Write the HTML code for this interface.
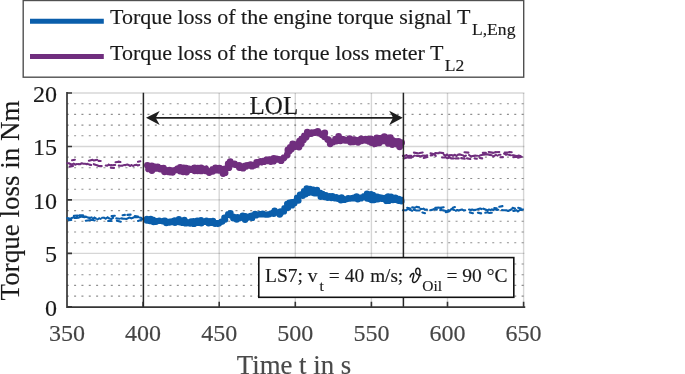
<!DOCTYPE html><html><head><meta charset="utf-8"><style>html,body{margin:0;padding:0;background:#fff;overflow:hidden}svg{display:block;filter:blur(0.3px)}text{stroke-width:0.15px}</style></head><body><svg width="685" height="374" viewBox="0 0 685 374" font-family="&quot;Liberation Serif&quot;, serif"><rect width="685" height="374" fill="#fff"/><path d="M67,296.1H523.6M67,285.4H523.6M67,274.7H523.6M67,264.0H523.6M67,242.7H523.6M67,232.0H523.6M67,221.3H523.6M67,210.6H523.6M67,189.2H523.6M67,178.5H523.6M67,167.8H523.6M67,157.1H523.6M67,135.8H523.6M67,125.1H523.6M67,114.4H523.6M67,103.7H523.6" stroke="#8f8f8f" stroke-width="1.1" stroke-dasharray="2.0,5.336" stroke-dashoffset="-7.1" fill="none"/><path d="M67,253.4H524.4M67,199.9H524.4M67,146.5H524.4M67,93.0H524.4" stroke="#000" stroke-opacity="0.16" stroke-width="1.4" fill="none"/><path d="M219.2,93V306.8M295.3,93V306.8M371.4,93V306.8M447.5,93V306.8M523.6,93V306.8" stroke="#000" stroke-opacity="0.16" stroke-width="1.4" fill="none"/><path d="M67,92.8V307.1H524.4" stroke="#363636" stroke-width="1.7" fill="none" stroke-linecap="square"/><path d="M67,306.8H72M67,253.4H72M67,199.9H72M67,146.5H72M67,93.0H72M143.1,307V301.8M219.2,307V301.8M295.3,307V301.8M371.4,307V301.8M447.5,307V301.8M523.6,307V301.8" stroke="#363636" stroke-width="1.6" fill="none"/><path d="M67.3,163.2L68.9,163.3M68.9,163.3L70.8,164.2M70.8,164.2L72.4,164.3M73.7,163.6L75.3,164.6M75.3,164.6L77.1,164.1M78.4,164.1L80.0,164.2M80.0,164.2L81.8,163.3M81.8,163.3L83.3,163.7M83.3,163.7L84.8,163.7M84.8,163.7L86.5,164.1M86.5,164.1L87.8,163.9M89.3,164.6L91.1,165.0M93.8,164.2L95.3,164.8M96.9,165.2L98.7,166.0M98.7,166.0L100.1,166.1M100.1,166.1L101.7,166.1M105.7,165.5L107.3,165.6M107.3,165.6L108.8,164.7M108.8,164.7L110.5,165.3M110.5,165.3L111.9,165.1M113.6,165.0L115.2,165.0M118.8,165.6L120.7,165.7M120.7,165.7L122.6,165.6M124.0,165.0L125.5,165.1M125.5,165.1L127.3,164.6M127.3,164.6L128.6,165.0M128.6,165.0L130.1,165.9M130.1,165.9L131.7,165.0M133.2,165.9L134.5,165.2M134.5,165.2L136.3,164.8M136.3,164.8L137.7,165.4M137.7,165.4L139.3,165.0M69.6,166.6L73.1,166.0M72.1,160.3L74.9,159.7M88.9,160.8L92.7,159.8M93.7,160.5L97.1,159.7M98.6,160.9L100.7,161.0M110.8,167.7L114.0,167.9M115.6,162.3L118.9,161.7M118.4,161.6L120.4,162.0M138.0,161.7L140.3,161.3M402.9,155.9L404.7,155.8M404.7,155.8L406.4,155.2M406.4,155.2L408.0,156.1M408.0,156.1L409.7,155.8M409.7,155.8L411.2,155.9M413.0,156.6L414.6,155.5M416.1,155.7L417.4,155.9M417.4,155.9L419.0,155.8M419.0,155.8L420.9,156.5M420.9,156.5L422.5,155.6M423.8,155.6L425.3,155.7M425.3,155.7L427.2,155.3M430.7,155.4L432.4,155.2M434.2,154.2L435.7,155.9M443.9,154.6L445.4,155.7M445.4,155.7L447.0,154.5M447.0,154.5L448.6,155.9M448.6,155.9L450.2,155.0M451.6,155.0L453.0,155.8M453.0,155.8L454.9,154.8M454.9,154.8L456.4,155.8M456.4,155.8L458.3,154.6M458.3,154.6L459.9,154.4M459.9,154.4L461.6,154.9M463.0,155.4L464.6,156.4M464.6,156.4L465.9,155.7M469.1,155.0L470.9,156.5M470.9,156.5L472.3,156.0M472.3,156.0L473.8,155.9M473.8,155.9L475.4,155.6M475.4,155.6L477.2,155.7M479.0,155.9L480.6,155.3M480.6,155.3L482.1,155.0M483.5,154.7L485.4,154.4M486.7,154.5L488.1,154.4M488.1,154.4L489.9,154.9M489.9,154.9L491.7,155.2M493.2,156.5L494.6,155.6M494.6,155.6L495.9,154.9M495.9,154.9L497.6,155.6M499.0,154.8L500.5,154.8M504.1,153.7L505.9,154.7M505.9,154.7L507.3,154.4M509.0,154.9L510.6,155.2M512.4,155.3L514.0,155.4M514.0,155.4L515.6,155.8M515.6,155.8L517.0,156.2M517.0,156.2L518.7,155.6M518.7,155.6L520.3,156.0M403.8,158.5L407.2,157.6M408.6,157.8L411.4,157.8M413.9,152.6L417.9,153.3M419.7,153.0L422.7,152.5M423.7,158.0L427.3,157.1M430.5,153.2L434.3,154.3M435.2,153.0L438.6,153.3M439.3,152.5L443.2,153.1M442.1,157.5L445.9,157.4M447.1,158.3L450.2,157.6M451.1,158.4L453.5,158.4M455.3,158.5L458.7,158.4M461.2,158.1L464.7,158.8M464.5,152.3L468.4,152.6M467.0,158.4L470.3,159.0M474.6,158.4L476.8,158.8M479.8,158.0L482.2,158.4M482.8,152.9L485.9,152.9M488.7,152.0L492.1,152.6M492.9,152.9L495.9,152.1M495.7,152.2L499.3,152.0M500.6,157.3L502.9,157.1M504.7,152.5L508.6,152.2M509.1,152.0L511.7,152.2M513.3,157.2L516.9,156.8M518.0,157.7L521.7,156.8" stroke="#702e7e" stroke-width="2.1" stroke-linecap="round" fill="none"/><path d="M67.3,218.1L68.6,218.3M68.6,218.3L69.9,218.9M69.9,218.9L71.3,218.3M71.3,218.3L73.3,217.4M73.3,217.4L74.8,218.0M74.8,218.0L76.5,217.9M76.5,217.9L78.4,217.7M78.4,217.7L80.0,217.1M80.0,217.1L81.3,216.5M81.3,216.5L83.1,217.0M84.4,217.2L86.2,216.8M86.2,216.8L88.0,217.6M88.0,217.6L89.8,217.9M89.8,217.9L91.6,217.4M93.1,218.6L94.5,217.6M94.5,217.6L95.8,218.4M97.4,219.5L99.1,218.3M99.1,218.3L100.6,218.9M102.1,217.7L104.0,217.7M104.0,217.7L105.7,218.6M105.7,218.6L107.6,217.4M107.6,217.4L109.3,218.5M109.3,218.5L111.2,219.1M111.2,219.1L113.1,217.9M116.3,218.4L117.6,218.5M117.6,218.5L119.4,218.7M121.2,218.4L122.8,218.6M122.8,218.6L124.6,218.7M124.6,218.7L126.4,219.0M126.4,219.0L127.7,218.4M127.7,218.4L129.4,217.5M129.4,217.5L131.4,218.4M131.4,218.4L133.0,217.7M133.0,217.7L134.3,217.1M134.3,217.1L135.9,217.3M135.9,217.3L137.5,217.2M139.2,217.5L141.0,217.8M141.0,217.8L142.5,218.8M68.9,220.1L71.3,220.0M73.9,215.8L77.5,215.6M79.4,215.3L83.1,215.2M82.7,216.0L86.3,216.7M85.8,220.7L89.4,220.3M88.8,220.2L91.4,220.0M92.7,220.0L94.7,220.5M108.1,221.0L111.4,221.0M111.6,216.1L114.8,215.7M116.9,220.8L120.8,221.7M122.6,215.2L124.9,214.9M127.4,214.9L130.6,214.6M134.9,216.0L138.0,216.5M138.0,220.9L141.7,219.8M402.9,210.3L404.4,210.2M404.4,210.2L406.3,210.1M406.3,210.1L407.7,209.0M409.4,209.7L410.7,210.0M410.7,210.0L412.1,210.7M413.9,209.7L415.7,210.3M415.7,210.3L417.4,210.5M417.4,210.5L419.1,210.5M420.5,208.9L422.1,209.0M423.5,208.6L425.1,209.8M425.1,209.8L426.9,209.6M430.2,210.3L432.1,209.9M432.1,209.9L433.6,209.2M433.6,209.2L435.3,209.4M435.3,209.4L436.8,209.8M440.2,210.1L441.7,209.8M443.2,210.4L445.1,210.8M446.5,211.1L448.2,210.4M448.2,210.4L450.0,210.6M450.0,210.6L451.4,209.0M451.4,209.0L452.8,209.5M452.8,209.5L454.1,209.9M455.8,210.7L457.2,210.0M457.2,210.0L458.8,210.6M458.8,210.6L460.1,210.1M460.1,210.1L462.0,209.5M462.0,209.5L463.7,210.4M463.7,210.4L465.2,210.2M469.0,209.5L470.7,210.1M470.7,210.1L472.1,209.6M472.1,209.6L473.6,210.1M473.6,210.1L475.5,209.9M477.0,209.5L478.4,209.1M478.4,209.1L480.2,208.6M480.2,208.6L481.5,209.1M483.4,208.7L484.8,209.3M484.8,209.3L486.1,209.8M487.4,210.3L488.8,209.6M488.8,209.6L490.7,210.1M490.7,210.1L492.0,209.4M492.0,209.4L493.6,209.9M495.5,209.6L497.0,210.0M497.0,210.0L498.3,209.7M502.0,210.1L503.4,210.3M503.4,210.3L504.9,210.3M504.9,210.3L506.7,210.4M506.7,210.4L508.1,211.0M508.1,211.0L509.7,210.3M509.7,210.3L511.6,209.3M513.3,210.9L515.1,210.6M516.5,210.2L517.9,211.5M517.9,211.5L519.7,210.0M519.7,210.0L521.2,210.0M521.2,210.0L522.9,209.4M407.2,207.7L410.3,208.4M412.2,207.4L415.2,207.7M416.4,206.9L419.1,207.4M422.4,212.5L425.0,213.2M435.3,207.9L438.9,207.6M440.1,207.9L443.7,207.2M445.8,212.2L449.0,211.4M452.8,207.7L454.9,207.1M469.8,212.4L472.9,213.2M477.9,212.7L481.1,213.4M485.3,212.7L488.0,212.2M489.0,213.0L491.8,212.8M494.3,208.1L496.7,208.2M499.3,206.8L502.5,206.1M512.6,207.8L515.0,208.4M518.2,207.8L520.8,208.5" stroke="#0a5eab" stroke-width="2.1" stroke-linecap="round" fill="none"/><path d="M146.5,163.5L147.0,163.4L147.5,162.7L148.0,163.2L148.5,163.3L149.0,163.4L149.5,163.4L150.0,163.5L150.5,163.6L151.0,163.7L151.5,163.8L152.0,163.8L152.5,163.9L153.0,164.0L153.5,164.1L154.0,164.1L154.5,164.2L155.0,164.2L155.5,164.3L156.0,164.4L156.5,164.4L157.0,164.5L157.5,164.6L158.0,164.8L158.5,164.9L159.0,165.0L159.5,165.1L160.0,165.2L160.5,165.4L161.0,165.5L161.5,165.6L162.0,165.8L162.5,165.9L163.0,166.0L163.5,166.2L164.0,166.4L164.5,166.7L165.0,166.9L165.5,167.1L166.0,167.3L166.5,167.6L167.0,167.8L167.5,168.0L168.0,168.2L168.5,168.4L169.0,168.7L169.5,168.9L170.0,169.1L170.5,168.8L171.0,168.6L171.5,168.3L172.0,168.1L172.5,167.8L173.0,167.6L173.5,167.3L174.0,167.0L174.5,166.8L175.0,166.5L175.5,166.3L176.0,166.0L176.5,166.0L177.0,166.1L177.5,166.1L178.0,166.1L178.5,166.2L179.0,166.2L179.5,166.2L180.0,166.3L180.5,166.3L181.0,166.4L181.5,166.4L182.0,166.4L182.5,166.5L183.0,166.5L183.5,166.5L184.0,166.5L184.5,166.5L185.0,166.5L185.5,166.5L186.0,166.5L186.5,166.5L187.0,166.5L187.5,166.5L188.0,166.5L188.5,166.5L189.0,166.5L189.5,166.5L190.0,166.5L190.5,166.4L191.0,166.3L191.5,166.1L192.0,166.0L192.5,165.9L193.0,165.8L193.5,165.6L194.0,165.5L194.5,165.4L195.0,165.2L195.5,165.1L196.0,165.0L196.5,165.1L197.0,165.2L197.5,165.3L198.0,165.4L198.5,165.5L199.0,165.6L199.5,165.8L200.0,165.9L200.5,166.0L201.0,166.1L201.5,166.2L202.0,166.3L202.5,166.4L203.0,166.5L203.5,166.3L204.0,166.1L204.5,165.9L205.0,165.8L205.5,165.6L206.0,165.4L206.5,165.2L207.0,165.0L207.5,165.7L208.0,166.4L208.5,167.1L209.0,167.8L209.5,168.5L210.0,169.2L210.5,168.9L211.0,168.7L211.5,168.4L212.0,168.2L212.5,167.9L213.0,167.6L213.5,167.4L214.0,167.1L214.5,166.9L215.0,166.6L215.5,166.6L216.0,166.5L216.5,166.5L217.0,166.4L217.5,166.3L218.0,166.3L218.5,166.2L219.0,166.2L219.5,166.2L220.0,166.1L220.5,166.2L221.0,166.4L221.5,166.5L222.0,166.7L222.5,166.8L223.0,166.9L223.5,167.1L224.0,167.2L224.5,165.9L225.0,164.6L225.5,163.3L226.0,162.0L226.5,161.8L227.0,161.5L227.5,161.2L228.0,161.0L228.5,160.8L229.0,160.5L229.5,160.2L230.0,160.0L230.5,160.2L231.0,160.4L231.5,160.6L232.0,160.8L232.5,161.0L233.0,161.2L233.5,161.4L234.0,161.6L234.5,161.8L235.0,162.0L235.5,162.2L236.0,162.3L236.5,162.5L237.0,162.6L237.5,162.8L238.0,163.0L238.5,163.1L239.0,163.3L239.5,163.4L240.0,163.6L240.5,163.7L241.0,163.7L241.5,163.7L242.0,163.8L242.5,163.8L243.0,163.9L243.5,163.9L244.0,164.0L244.5,164.0L245.0,164.1L245.5,164.0L246.0,163.9L246.5,163.8L247.0,163.7L247.5,163.6L248.0,163.5L248.5,163.4L249.0,163.3L249.5,163.2L250.0,163.1L250.5,163.2L251.0,163.2L251.5,163.2L252.0,163.3L252.5,163.3L253.0,163.4L253.5,163.4L254.0,163.5L254.5,163.5L255.0,163.6L255.5,162.8L256.0,162.1L256.5,161.3L257.0,160.5L257.5,159.8L258.0,159.0L258.5,159.1L259.0,159.3L259.5,159.4L260.0,159.5L260.5,159.6L261.0,159.8L261.5,159.9L262.0,160.0L262.5,159.7L263.0,159.4L263.5,159.1L264.0,158.8L264.5,158.5L265.0,158.1L265.5,157.8L266.0,157.5L266.5,157.2L267.0,156.9L267.5,156.9L268.0,157.0L268.5,157.1L269.0,157.1L269.5,157.2L270.0,157.2L270.5,157.2L271.0,157.3L271.5,157.3L272.0,157.4L272.5,157.2L273.0,157.0L273.5,156.8L274.0,156.6L274.5,156.4L275.0,156.2L275.5,156.2L276.0,156.3L276.5,156.3L277.0,156.4L277.5,156.4L278.0,156.4L278.5,156.5L279.0,156.5L279.5,156.6L280.0,156.6L280.5,157.0L281.0,157.5L281.5,157.9L282.0,158.3L282.5,158.8L283.0,159.2L283.5,156.9L284.0,154.5L284.5,152.2L285.0,149.9L285.5,149.4L286.0,149.0L286.5,148.5L287.0,148.1L287.5,147.7L288.0,147.2L288.5,146.4L289.0,145.7L289.5,144.9L290.0,144.1L290.5,143.4L291.0,142.6L291.5,142.5L292.0,142.4L292.5,142.2L293.0,142.1L293.5,142.0L294.0,141.9L294.5,142.0L295.0,142.1L295.5,142.2L296.0,142.4L296.5,142.5L297.0,142.6L297.5,142.0L298.0,141.5L298.5,140.9L299.0,140.3L299.5,139.8L300.0,139.2L300.5,138.4L301.0,137.5L301.5,136.7L302.0,135.9L302.5,135.4L303.0,134.9L303.5,134.4L304.0,133.9L304.5,133.1L305.0,132.2L305.5,131.4L306.0,130.6L306.5,130.3L307.0,130.1L307.5,129.8L308.0,129.5L308.5,129.7L309.0,129.9L309.5,130.1L310.0,130.4L310.5,130.6L311.0,130.8L311.5,130.6L312.0,130.4L312.5,130.2L313.0,129.9L313.5,129.7L314.0,129.5L314.5,129.4L315.0,129.4L315.5,129.3L316.0,129.3L316.5,129.2L317.0,129.2L317.5,129.7L318.0,130.1L318.5,130.6L319.0,131.0L319.5,131.4L320.0,131.9L320.5,131.9L321.0,131.8L321.5,131.8L322.0,131.7L322.5,131.7L323.0,131.6L323.5,131.5L324.0,131.4L324.5,131.3L325.0,131.2L325.5,132.0L326.0,132.9L326.5,133.8L327.0,134.6L327.5,135.2L328.0,135.9L328.5,136.6L329.0,137.2L329.5,137.7L330.0,138.2L330.5,138.7L331.0,139.2L331.5,139.1L332.0,139.0L332.5,138.9L333.0,138.8L333.5,138.7L334.0,138.6L334.5,137.9L335.0,137.3L335.5,136.6L336.0,135.9L336.5,135.3L337.0,134.6L337.5,134.7L338.0,134.8L338.5,134.9L339.0,135.0L339.5,135.1L340.0,135.2L340.5,135.4L341.0,135.7L341.5,135.9L342.0,136.1L342.5,136.3L343.0,136.6L343.5,136.8L344.0,137.0L344.5,137.3L345.0,137.5L345.5,137.4L346.0,137.4L346.5,137.3L347.0,137.2L347.5,137.2L348.0,137.1L348.5,137.0L349.0,136.9L349.5,136.9L350.0,136.8L350.5,136.9L351.0,137.1L351.5,137.2L352.0,137.3L352.5,137.4L353.0,137.6L353.5,137.7L354.0,137.8L354.5,138.0L355.0,138.1L355.5,138.0L356.0,137.8L356.5,137.7L357.0,137.6L357.5,137.5L358.0,137.3L358.5,137.2L359.0,137.1L359.5,136.9L360.0,136.8L360.5,136.9L361.0,136.9L361.5,137.0L362.0,137.1L362.5,137.2L363.0,137.2L363.5,137.3L364.0,137.4L364.5,137.4L365.0,137.5L365.5,137.5L366.0,137.5L366.5,137.5L367.0,137.5L367.5,137.5L368.0,137.5L368.5,137.5L369.0,137.5L369.5,137.5L370.0,137.5L370.5,137.6L371.0,137.7L371.5,137.7L372.0,137.8L372.5,137.9L373.0,137.9L373.5,138.0L374.0,138.1L374.5,137.8L375.0,137.5L375.5,137.2L376.0,136.8L376.5,136.5L377.0,136.2L377.5,136.0L378.0,135.9L378.5,135.7L379.0,135.5L379.5,135.3L380.0,135.2L380.5,135.0L381.0,134.8L381.5,134.7L382.0,134.5L382.5,134.3L383.0,134.1L383.5,134.0L384.0,133.8L384.5,134.0L385.0,134.2L385.5,134.4L386.0,134.6L386.5,134.8L387.0,135.0L387.5,135.2L388.0,135.4L388.5,135.6L389.0,135.8L389.5,136.0L390.0,136.2L390.5,136.4L391.0,136.6L391.5,136.8L392.0,137.0L392.5,137.2L393.0,137.3L393.5,137.5L394.0,137.7L394.5,137.9L395.0,138.1L395.5,138.2L396.0,138.3L396.5,138.4L397.0,138.5L397.5,138.7L398.0,138.8L398.5,138.9L399.0,139.0L399.5,139.1L400.0,139.2L400.5,139.4L401.0,139.6L401.5,139.8L402.0,140.0L402.5,140.2L402.5,147.8L402.0,147.9L401.5,148.0L401.0,148.1L400.5,148.2L400.0,148.3L399.5,148.1L399.0,147.9L398.5,147.8L398.0,147.6L397.5,147.4L397.0,147.2L396.5,147.0L396.0,146.9L395.5,146.7L395.0,146.5L394.5,146.5L394.0,146.5L393.5,146.5L393.0,146.5L392.5,146.5L392.0,146.5L391.5,146.5L391.0,146.5L390.5,146.5L390.0,146.5L389.5,146.3L389.0,146.1L388.5,145.9L388.0,145.7L387.5,145.5L387.0,145.3L386.5,145.1L386.0,144.9L385.5,144.7L385.0,144.5L384.5,144.3L384.0,144.1L383.5,144.1L383.0,144.2L382.5,144.2L382.0,144.3L381.5,144.3L381.0,144.4L380.5,144.4L380.0,144.4L379.5,144.5L379.0,144.5L378.5,144.6L378.0,144.6L377.5,144.7L377.0,144.7L376.5,145.2L376.0,145.7L375.5,146.2L375.0,146.7L374.5,147.2L374.0,147.7L373.5,147.3L373.0,146.8L372.5,146.4L372.0,145.9L371.5,145.5L371.0,145.0L370.5,144.6L370.0,144.1L369.5,144.0L369.0,144.0L368.5,143.9L368.0,143.9L367.5,143.8L367.0,143.7L366.5,143.7L366.0,143.6L365.5,143.6L365.0,143.5L364.5,143.6L364.0,143.6L363.5,143.7L363.0,143.7L362.5,143.8L362.0,143.9L361.5,143.9L361.0,144.0L360.5,144.0L360.0,144.1L359.5,144.2L359.0,144.2L358.5,144.3L358.0,144.3L357.5,144.4L357.0,144.5L356.5,144.5L356.0,144.6L355.5,144.6L355.0,144.7L354.5,144.6L354.0,144.5L353.5,144.3L353.0,144.2L352.5,144.1L352.0,144.0L351.5,143.9L351.0,143.7L350.5,143.6L350.0,143.5L349.5,143.5L349.0,143.5L348.5,143.5L348.0,143.5L347.5,143.5L347.0,143.5L346.5,143.5L346.0,143.5L345.5,143.5L345.0,143.5L344.5,143.4L344.0,143.4L343.5,143.3L343.0,143.2L342.5,143.2L342.0,143.1L341.5,143.0L341.0,142.9L340.5,142.9L340.0,142.8L339.5,142.9L339.0,143.0L338.5,143.2L338.0,143.3L337.5,143.4L337.0,143.5L336.5,143.6L336.0,143.7L335.5,143.9L335.0,144.0L334.5,144.1L334.0,144.2L333.5,144.5L333.0,144.9L332.5,145.2L332.0,145.5L331.5,145.9L331.0,146.2L330.5,145.8L330.0,145.5L329.5,145.2L329.0,144.8L328.5,143.8L328.0,142.8L327.5,141.8L327.0,140.8L326.5,140.1L326.0,139.5L325.5,138.8L325.0,138.2L324.5,138.0L324.0,137.8L323.5,137.7L323.0,137.5L322.5,137.3L322.0,137.1L321.5,136.9L321.0,136.6L320.5,136.4L320.0,136.2L319.5,136.0L319.0,135.7L318.5,135.5L318.0,135.3L317.5,135.0L317.0,134.8L316.5,134.9L316.0,135.0L315.5,135.2L315.0,135.3L314.5,135.4L314.0,135.5L313.5,135.6L313.0,135.7L312.5,135.8L312.0,136.0L311.5,136.1L311.0,136.2L310.5,136.3L310.0,136.4L309.5,136.5L309.0,136.6L308.5,136.7L308.0,136.8L307.5,137.3L307.0,137.8L306.5,138.3L306.0,138.8L305.5,139.7L305.0,140.5L304.5,141.4L304.0,142.2L303.5,142.8L303.0,143.5L302.5,144.2L302.0,144.8L301.5,145.7L301.0,146.5L300.5,147.3L300.0,148.2L299.5,148.2L299.0,148.2L298.5,148.2L298.0,148.2L297.5,148.2L297.0,148.2L296.5,148.3L296.0,148.4L295.5,148.5L295.0,148.6L294.5,148.7L294.0,148.8L293.5,149.4L293.0,149.9L292.5,150.5L292.0,151.1L291.5,151.6L291.0,152.2L290.5,152.8L290.0,153.3L289.5,153.8L289.0,154.4L288.5,154.9L288.0,155.5L287.5,156.0L287.0,156.6L286.5,157.2L286.0,157.7L285.5,158.2L285.0,158.8L284.5,160.0L284.0,161.2L283.5,162.3L283.0,163.5L282.5,163.2L282.0,162.8L281.5,162.5L281.0,162.2L280.5,161.8L280.0,161.5L279.5,161.5L279.0,161.5L278.5,161.5L278.0,161.5L277.5,161.5L277.0,161.5L276.5,161.5L276.0,161.5L275.5,161.5L275.0,161.5L274.5,162.0L274.0,162.4L273.5,162.8L273.0,163.3L272.5,163.8L272.0,164.2L271.5,164.0L271.0,163.8L270.5,163.6L270.0,163.4L269.5,163.2L269.0,163.0L268.5,162.8L268.0,162.6L267.5,162.4L267.0,162.2L266.5,162.6L266.0,162.9L265.5,163.3L265.0,163.6L264.5,164.0L264.0,164.4L263.5,164.7L263.0,165.1L262.5,165.4L262.0,165.8L261.5,165.6L261.0,165.4L260.5,165.2L260.0,165.0L259.5,164.8L259.0,164.6L258.5,164.4L258.0,164.2L257.5,164.8L257.0,165.4L256.5,166.0L256.0,166.6L255.5,167.2L255.0,167.8L254.5,167.8L254.0,167.8L253.5,167.8L253.0,167.8L252.5,167.8L252.0,167.8L251.5,167.8L251.0,167.8L250.5,167.8L250.0,167.8L249.5,168.0L249.0,168.2L248.5,168.4L248.0,168.6L247.5,168.8L247.0,169.0L246.5,169.2L246.0,169.4L245.5,169.6L245.0,169.8L244.5,169.8L244.0,169.8L243.5,169.8L243.0,169.8L242.5,169.8L242.0,169.8L241.5,169.8L241.0,169.8L240.5,169.8L240.0,169.8L239.5,169.5L239.0,169.2L238.5,168.9L238.0,168.6L237.5,168.3L237.0,168.0L236.5,167.7L236.0,167.4L235.5,167.1L235.0,166.8L234.5,166.9L234.0,167.0L233.5,167.1L233.0,167.2L232.5,167.3L232.0,167.4L231.5,167.5L231.0,167.6L230.5,167.7L230.0,167.8L229.5,168.5L229.0,169.2L228.5,169.9L228.0,170.6L227.5,171.3L227.0,172.0L226.5,172.7L226.0,173.4L225.5,174.0L225.0,174.7L224.5,175.3L224.0,176.0L223.5,175.6L223.0,175.2L222.5,174.8L222.0,174.5L221.5,174.1L221.0,173.7L220.5,173.3L220.0,172.9L219.5,172.9L219.0,172.9L218.5,172.9L218.0,172.9L217.5,172.9L217.0,172.9L216.5,172.9L216.0,172.9L215.5,172.9L215.0,172.9L214.5,173.1L214.0,173.2L213.5,173.4L213.0,173.5L212.5,173.7L212.0,173.9L211.5,174.0L211.0,174.2L210.5,174.3L210.0,174.5L209.5,174.1L209.0,173.6L208.5,173.2L208.0,172.7L207.5,172.2L207.0,171.8L206.5,171.9L206.0,172.1L205.5,172.2L205.0,172.3L204.5,172.4L204.0,172.6L203.5,172.7L203.0,172.8L202.5,172.9L202.0,172.9L201.5,173.0L201.0,173.1L200.5,173.2L200.0,173.2L199.5,173.3L199.0,173.4L198.5,173.4L198.0,173.5L197.5,173.6L197.0,173.7L196.5,173.7L196.0,173.8L195.5,173.7L195.0,173.6L194.5,173.6L194.0,173.5L193.5,173.4L193.0,173.3L192.5,173.2L192.0,173.1L191.5,173.1L191.0,173.0L190.5,172.9L190.0,172.8L189.5,172.9L189.0,173.0L188.5,173.1L188.0,173.2L187.5,173.3L187.0,173.4L186.5,173.6L186.0,173.7L185.5,173.8L185.0,173.9L184.5,174.0L184.0,174.1L183.5,174.2L183.0,174.3L182.5,174.2L182.0,174.1L181.5,174.0L181.0,173.9L180.5,173.8L180.0,173.7L179.5,173.6L179.0,173.4L178.5,173.3L178.0,173.2L177.5,173.1L177.0,173.0L176.5,172.9L176.0,172.8L175.5,173.0L175.0,173.3L174.5,173.5L174.0,173.7L173.5,174.0L173.0,174.2L172.5,174.4L172.0,174.7L171.5,174.9L171.0,175.1L170.5,175.4L170.0,175.6L169.5,175.4L169.0,175.3L168.5,175.1L168.0,174.9L167.5,174.8L167.0,174.6L166.5,174.4L166.0,174.3L165.5,174.1L165.0,174.0L164.5,173.8L164.0,173.6L163.5,173.5L163.0,173.3L162.5,173.1L162.0,172.9L161.5,172.7L161.0,172.5L160.5,172.3L160.0,172.1L159.5,171.8L159.0,171.6L158.5,171.4L158.0,171.2L157.5,171.0L157.0,170.8L156.5,171.1L156.0,171.4L155.5,171.7L155.0,172.1L154.5,172.4L154.0,172.7L153.5,173.0L153.0,173.3L152.5,173.3L152.0,173.3L151.5,173.3L151.0,173.3L150.5,173.3L150.0,173.3L149.5,172.3L149.0,171.2L148.5,170.2L148.0,169.2L147.5,165.8L147.0,164.8L146.5,164.5ZM144.0,165.3a3.4,3.4 0 1,1 6.8,0a3.4,3.4 0 1,1 -6.8,0M148.4,166.0a3.4,3.4 0 1,1 6.8,0a3.4,3.4 0 1,1 -6.8,0M151.7,166.8a3.4,3.4 0 1,1 6.8,0a3.4,3.4 0 1,1 -6.8,0M154.2,167.0a3.4,3.4 0 1,1 6.8,0a3.4,3.4 0 1,1 -6.8,0M157.8,168.5a3.4,3.4 0 1,1 6.8,0a3.4,3.4 0 1,1 -6.8,0M160.1,168.1a3.4,3.4 0 1,1 6.8,0a3.4,3.4 0 1,1 -6.8,0M162.3,170.2a3.4,3.4 0 1,1 6.8,0a3.4,3.4 0 1,1 -6.8,0M166.1,170.2a3.4,3.4 0 1,1 6.8,0a3.4,3.4 0 1,1 -6.8,0M170.7,170.3a3.4,3.4 0 1,1 6.8,0a3.4,3.4 0 1,1 -6.8,0M174.4,168.7a3.4,3.4 0 1,1 6.8,0a3.4,3.4 0 1,1 -6.8,0M176.8,167.5a3.4,3.4 0 1,1 6.8,0a3.4,3.4 0 1,1 -6.8,0M180.2,167.8a3.4,3.4 0 1,1 6.8,0a3.4,3.4 0 1,1 -6.8,0M182.7,168.2a3.4,3.4 0 1,1 6.8,0a3.4,3.4 0 1,1 -6.8,0M184.7,168.7a3.4,3.4 0 1,1 6.8,0a3.4,3.4 0 1,1 -6.8,0M187.9,169.2a3.4,3.4 0 1,1 6.8,0a3.4,3.4 0 1,1 -6.8,0M191.2,168.0a3.4,3.4 0 1,1 6.8,0a3.4,3.4 0 1,1 -6.8,0M194.5,168.1a3.4,3.4 0 1,1 6.8,0a3.4,3.4 0 1,1 -6.8,0M197.7,167.9a3.4,3.4 0 1,1 6.8,0a3.4,3.4 0 1,1 -6.8,0M202.3,168.9a3.4,3.4 0 1,1 6.8,0a3.4,3.4 0 1,1 -6.8,0M206.5,171.8a3.4,3.4 0 1,1 6.8,0a3.4,3.4 0 1,1 -6.8,0M209.3,169.5a3.4,3.4 0 1,1 6.8,0a3.4,3.4 0 1,1 -6.8,0M212.1,167.9a3.4,3.4 0 1,1 6.8,0a3.4,3.4 0 1,1 -6.8,0M216.1,168.2a3.4,3.4 0 1,1 6.8,0a3.4,3.4 0 1,1 -6.8,0M220.3,169.2a3.4,3.4 0 1,1 6.8,0a3.4,3.4 0 1,1 -6.8,0M224.8,164.0a3.4,3.4 0 1,1 6.8,0a3.4,3.4 0 1,1 -6.8,0M226.8,161.7a3.4,3.4 0 1,1 6.8,0a3.4,3.4 0 1,1 -6.8,0M231.1,164.0a3.4,3.4 0 1,1 6.8,0a3.4,3.4 0 1,1 -6.8,0M235.7,165.4a3.4,3.4 0 1,1 6.8,0a3.4,3.4 0 1,1 -6.8,0M237.9,166.3a3.4,3.4 0 1,1 6.8,0a3.4,3.4 0 1,1 -6.8,0M241.9,165.8a3.4,3.4 0 1,1 6.8,0a3.4,3.4 0 1,1 -6.8,0M244.1,165.5a3.4,3.4 0 1,1 6.8,0a3.4,3.4 0 1,1 -6.8,0M248.6,166.2a3.4,3.4 0 1,1 6.8,0a3.4,3.4 0 1,1 -6.8,0M250.9,165.3a3.4,3.4 0 1,1 6.8,0a3.4,3.4 0 1,1 -6.8,0M253.2,162.5a3.4,3.4 0 1,1 6.8,0a3.4,3.4 0 1,1 -6.8,0M257.3,161.3a3.4,3.4 0 1,1 6.8,0a3.4,3.4 0 1,1 -6.8,0M260.7,160.9a3.4,3.4 0 1,1 6.8,0a3.4,3.4 0 1,1 -6.8,0M263.2,160.0a3.4,3.4 0 1,1 6.8,0a3.4,3.4 0 1,1 -6.8,0M265.6,159.7a3.4,3.4 0 1,1 6.8,0a3.4,3.4 0 1,1 -6.8,0M267.9,159.5a3.4,3.4 0 1,1 6.8,0a3.4,3.4 0 1,1 -6.8,0M270.4,158.5a3.4,3.4 0 1,1 6.8,0a3.4,3.4 0 1,1 -6.8,0M274.9,159.4a3.4,3.4 0 1,1 6.8,0a3.4,3.4 0 1,1 -6.8,0M277.7,160.7a3.4,3.4 0 1,1 6.8,0a3.4,3.4 0 1,1 -6.8,0M280.3,158.1a3.4,3.4 0 1,1 6.8,0a3.4,3.4 0 1,1 -6.8,0M284.5,149.9a3.4,3.4 0 1,1 6.8,0a3.4,3.4 0 1,1 -6.8,0M286.8,147.3a3.4,3.4 0 1,1 6.8,0a3.4,3.4 0 1,1 -6.8,0M289.3,144.0a3.4,3.4 0 1,1 6.8,0a3.4,3.4 0 1,1 -6.8,0M293.3,144.5a3.4,3.4 0 1,1 6.8,0a3.4,3.4 0 1,1 -6.8,0M296.1,141.1a3.4,3.4 0 1,1 6.8,0a3.4,3.4 0 1,1 -6.8,0M298.3,138.8a3.4,3.4 0 1,1 6.8,0a3.4,3.4 0 1,1 -6.8,0M301.0,135.8a3.4,3.4 0 1,1 6.8,0a3.4,3.4 0 1,1 -6.8,0M303.9,132.1a3.4,3.4 0 1,1 6.8,0a3.4,3.4 0 1,1 -6.8,0M308.4,132.7a3.4,3.4 0 1,1 6.8,0a3.4,3.4 0 1,1 -6.8,0M311.9,132.5a3.4,3.4 0 1,1 6.8,0a3.4,3.4 0 1,1 -6.8,0M314.4,131.4a3.4,3.4 0 1,1 6.8,0a3.4,3.4 0 1,1 -6.8,0M318.7,134.7a3.4,3.4 0 1,1 6.8,0a3.4,3.4 0 1,1 -6.8,0M321.4,132.9a3.4,3.4 0 1,1 6.8,0a3.4,3.4 0 1,1 -6.8,0M325.3,140.1a3.4,3.4 0 1,1 6.8,0a3.4,3.4 0 1,1 -6.8,0M327.8,142.4a3.4,3.4 0 1,1 6.8,0a3.4,3.4 0 1,1 -6.8,0M332.1,139.1a3.4,3.4 0 1,1 6.8,0a3.4,3.4 0 1,1 -6.8,0M335.2,136.4a3.4,3.4 0 1,1 6.8,0a3.4,3.4 0 1,1 -6.8,0M337.3,138.8a3.4,3.4 0 1,1 6.8,0a3.4,3.4 0 1,1 -6.8,0M339.9,139.5a3.4,3.4 0 1,1 6.8,0a3.4,3.4 0 1,1 -6.8,0M342.6,140.4a3.4,3.4 0 1,1 6.8,0a3.4,3.4 0 1,1 -6.8,0M346.2,138.7a3.4,3.4 0 1,1 6.8,0a3.4,3.4 0 1,1 -6.8,0M348.6,140.1a3.4,3.4 0 1,1 6.8,0a3.4,3.4 0 1,1 -6.8,0M350.8,139.6a3.4,3.4 0 1,1 6.8,0a3.4,3.4 0 1,1 -6.8,0M354.2,140.5a3.4,3.4 0 1,1 6.8,0a3.4,3.4 0 1,1 -6.8,0M357.8,138.8a3.4,3.4 0 1,1 6.8,0a3.4,3.4 0 1,1 -6.8,0M362.2,139.1a3.4,3.4 0 1,1 6.8,0a3.4,3.4 0 1,1 -6.8,0M364.3,139.3a3.4,3.4 0 1,1 6.8,0a3.4,3.4 0 1,1 -6.8,0M367.4,139.0a3.4,3.4 0 1,1 6.8,0a3.4,3.4 0 1,1 -6.8,0M369.9,140.0a3.4,3.4 0 1,1 6.8,0a3.4,3.4 0 1,1 -6.8,0M373.4,137.8a3.4,3.4 0 1,1 6.8,0a3.4,3.4 0 1,1 -6.8,0M376.3,138.4a3.4,3.4 0 1,1 6.8,0a3.4,3.4 0 1,1 -6.8,0M380.9,136.6a3.4,3.4 0 1,1 6.8,0a3.4,3.4 0 1,1 -6.8,0M384.7,137.9a3.4,3.4 0 1,1 6.8,0a3.4,3.4 0 1,1 -6.8,0M387.0,137.6a3.4,3.4 0 1,1 6.8,0a3.4,3.4 0 1,1 -6.8,0M389.1,140.3a3.4,3.4 0 1,1 6.8,0a3.4,3.4 0 1,1 -6.8,0M392.9,141.7a3.4,3.4 0 1,1 6.8,0a3.4,3.4 0 1,1 -6.8,0M395.0,141.4a3.4,3.4 0 1,1 6.8,0a3.4,3.4 0 1,1 -6.8,0M398.2,142.7a3.4,3.4 0 1,1 6.8,0a3.4,3.4 0 1,1 -6.8,0M145.1,168.9a3.4,3.4 0 1,1 6.8,0a3.4,3.4 0 1,1 -6.8,0M148.5,170.5a3.4,3.4 0 1,1 6.8,0a3.4,3.4 0 1,1 -6.8,0M152.9,168.4a3.4,3.4 0 1,1 6.8,0a3.4,3.4 0 1,1 -6.8,0M156.7,169.1a3.4,3.4 0 1,1 6.8,0a3.4,3.4 0 1,1 -6.8,0M161.1,171.8a3.4,3.4 0 1,1 6.8,0a3.4,3.4 0 1,1 -6.8,0M164.8,171.8a3.4,3.4 0 1,1 6.8,0a3.4,3.4 0 1,1 -6.8,0M169.1,172.3a3.4,3.4 0 1,1 6.8,0a3.4,3.4 0 1,1 -6.8,0M173.2,169.8a3.4,3.4 0 1,1 6.8,0a3.4,3.4 0 1,1 -6.8,0M176.7,171.1a3.4,3.4 0 1,1 6.8,0a3.4,3.4 0 1,1 -6.8,0M179.7,171.8a3.4,3.4 0 1,1 6.8,0a3.4,3.4 0 1,1 -6.8,0M183.2,172.1a3.4,3.4 0 1,1 6.8,0a3.4,3.4 0 1,1 -6.8,0M186.9,169.5a3.4,3.4 0 1,1 6.8,0a3.4,3.4 0 1,1 -6.8,0M191.2,170.8a3.4,3.4 0 1,1 6.8,0a3.4,3.4 0 1,1 -6.8,0M194.2,170.8a3.4,3.4 0 1,1 6.8,0a3.4,3.4 0 1,1 -6.8,0M197.7,170.9a3.4,3.4 0 1,1 6.8,0a3.4,3.4 0 1,1 -6.8,0M201.9,170.8a3.4,3.4 0 1,1 6.8,0a3.4,3.4 0 1,1 -6.8,0M205.8,172.5a3.4,3.4 0 1,1 6.8,0a3.4,3.4 0 1,1 -6.8,0M209.4,171.3a3.4,3.4 0 1,1 6.8,0a3.4,3.4 0 1,1 -6.8,0M212.0,170.2a3.4,3.4 0 1,1 6.8,0a3.4,3.4 0 1,1 -6.8,0M215.3,170.3a3.4,3.4 0 1,1 6.8,0a3.4,3.4 0 1,1 -6.8,0M219.7,173.5a3.4,3.4 0 1,1 6.8,0a3.4,3.4 0 1,1 -6.8,0M221.7,172.7a3.4,3.4 0 1,1 6.8,0a3.4,3.4 0 1,1 -6.8,0M225.5,167.7a3.4,3.4 0 1,1 6.8,0a3.4,3.4 0 1,1 -6.8,0M227.9,164.3a3.4,3.4 0 1,1 6.8,0a3.4,3.4 0 1,1 -6.8,0M231.6,164.6a3.4,3.4 0 1,1 6.8,0a3.4,3.4 0 1,1 -6.8,0M236.0,167.5a3.4,3.4 0 1,1 6.8,0a3.4,3.4 0 1,1 -6.8,0M239.7,168.2a3.4,3.4 0 1,1 6.8,0a3.4,3.4 0 1,1 -6.8,0M242.8,166.3a3.4,3.4 0 1,1 6.8,0a3.4,3.4 0 1,1 -6.8,0M247.2,164.7a3.4,3.4 0 1,1 6.8,0a3.4,3.4 0 1,1 -6.8,0M250.2,165.3a3.4,3.4 0 1,1 6.8,0a3.4,3.4 0 1,1 -6.8,0M253.0,164.6a3.4,3.4 0 1,1 6.8,0a3.4,3.4 0 1,1 -6.8,0M256.3,161.8a3.4,3.4 0 1,1 6.8,0a3.4,3.4 0 1,1 -6.8,0M260.5,161.7a3.4,3.4 0 1,1 6.8,0a3.4,3.4 0 1,1 -6.8,0M265.0,160.9a3.4,3.4 0 1,1 6.8,0a3.4,3.4 0 1,1 -6.8,0M267.4,161.5a3.4,3.4 0 1,1 6.8,0a3.4,3.4 0 1,1 -6.8,0M270.1,161.2a3.4,3.4 0 1,1 6.8,0a3.4,3.4 0 1,1 -6.8,0M273.2,158.9a3.4,3.4 0 1,1 6.8,0a3.4,3.4 0 1,1 -6.8,0M276.5,159.6a3.4,3.4 0 1,1 6.8,0a3.4,3.4 0 1,1 -6.8,0M280.7,157.6a3.4,3.4 0 1,1 6.8,0a3.4,3.4 0 1,1 -6.8,0M283.8,155.0a3.4,3.4 0 1,1 6.8,0a3.4,3.4 0 1,1 -6.8,0M285.9,150.9a3.4,3.4 0 1,1 6.8,0a3.4,3.4 0 1,1 -6.8,0M288.0,148.9a3.4,3.4 0 1,1 6.8,0a3.4,3.4 0 1,1 -6.8,0M291.5,146.7a3.4,3.4 0 1,1 6.8,0a3.4,3.4 0 1,1 -6.8,0M295.6,147.0a3.4,3.4 0 1,1 6.8,0a3.4,3.4 0 1,1 -6.8,0M297.9,143.7a3.4,3.4 0 1,1 6.8,0a3.4,3.4 0 1,1 -6.8,0M300.0,140.0a3.4,3.4 0 1,1 6.8,0a3.4,3.4 0 1,1 -6.8,0M302.6,137.3a3.4,3.4 0 1,1 6.8,0a3.4,3.4 0 1,1 -6.8,0M304.7,134.2a3.4,3.4 0 1,1 6.8,0a3.4,3.4 0 1,1 -6.8,0M307.9,133.5a3.4,3.4 0 1,1 6.8,0a3.4,3.4 0 1,1 -6.8,0M311.6,132.3a3.4,3.4 0 1,1 6.8,0a3.4,3.4 0 1,1 -6.8,0M316.1,133.3a3.4,3.4 0 1,1 6.8,0a3.4,3.4 0 1,1 -6.8,0M318.6,134.8a3.4,3.4 0 1,1 6.8,0a3.4,3.4 0 1,1 -6.8,0M321.1,136.8a3.4,3.4 0 1,1 6.8,0a3.4,3.4 0 1,1 -6.8,0M324.3,139.4a3.4,3.4 0 1,1 6.8,0a3.4,3.4 0 1,1 -6.8,0M326.8,143.8a3.4,3.4 0 1,1 6.8,0a3.4,3.4 0 1,1 -6.8,0M329.7,142.1a3.4,3.4 0 1,1 6.8,0a3.4,3.4 0 1,1 -6.8,0M333.0,141.1a3.4,3.4 0 1,1 6.8,0a3.4,3.4 0 1,1 -6.8,0M337.0,140.8a3.4,3.4 0 1,1 6.8,0a3.4,3.4 0 1,1 -6.8,0M341.0,140.2a3.4,3.4 0 1,1 6.8,0a3.4,3.4 0 1,1 -6.8,0M343.3,140.2a3.4,3.4 0 1,1 6.8,0a3.4,3.4 0 1,1 -6.8,0M347.1,142.1a3.4,3.4 0 1,1 6.8,0a3.4,3.4 0 1,1 -6.8,0M350.3,141.8a3.4,3.4 0 1,1 6.8,0a3.4,3.4 0 1,1 -6.8,0M354.7,142.3a3.4,3.4 0 1,1 6.8,0a3.4,3.4 0 1,1 -6.8,0M358.2,140.8a3.4,3.4 0 1,1 6.8,0a3.4,3.4 0 1,1 -6.8,0M362.2,140.3a3.4,3.4 0 1,1 6.8,0a3.4,3.4 0 1,1 -6.8,0M365.4,141.3a3.4,3.4 0 1,1 6.8,0a3.4,3.4 0 1,1 -6.8,0M368.0,142.6a3.4,3.4 0 1,1 6.8,0a3.4,3.4 0 1,1 -6.8,0M372.1,143.6a3.4,3.4 0 1,1 6.8,0a3.4,3.4 0 1,1 -6.8,0M376.0,142.8a3.4,3.4 0 1,1 6.8,0a3.4,3.4 0 1,1 -6.8,0M380.3,140.8a3.4,3.4 0 1,1 6.8,0a3.4,3.4 0 1,1 -6.8,0M384.9,143.4a3.4,3.4 0 1,1 6.8,0a3.4,3.4 0 1,1 -6.8,0M388.9,144.6a3.4,3.4 0 1,1 6.8,0a3.4,3.4 0 1,1 -6.8,0M393.3,144.0a3.4,3.4 0 1,1 6.8,0a3.4,3.4 0 1,1 -6.8,0M396.2,146.8a3.4,3.4 0 1,1 6.8,0a3.4,3.4 0 1,1 -6.8,0" fill="#702e7e"/><path d="M146.0,218.1L146.5,218.3L147.0,218.0L147.5,217.9L148.0,217.8L148.5,217.7L149.0,217.6L149.5,217.5L150.0,217.4L150.5,217.5L151.0,217.5L151.5,217.6L152.0,217.6L152.5,217.7L153.0,217.8L153.5,217.8L154.0,217.9L154.5,217.9L155.0,218.0L155.5,218.0L156.0,218.1L156.5,218.1L157.0,218.2L157.5,218.2L158.0,218.3L158.5,218.3L159.0,218.4L159.5,218.4L160.0,218.5L160.5,218.5L161.0,218.5L161.5,218.6L162.0,218.6L162.5,218.6L163.0,218.6L163.5,218.7L164.0,218.7L164.5,218.7L165.0,218.8L165.5,218.8L166.0,218.8L166.5,218.8L167.0,218.8L167.5,218.9L168.0,218.9L168.5,218.9L169.0,218.9L169.5,219.0L170.0,219.0L170.5,218.9L171.0,218.9L171.5,218.8L172.0,218.8L172.5,218.8L173.0,218.7L173.5,218.7L174.0,218.6L174.5,218.5L175.0,218.5L175.5,218.4L176.0,218.4L176.5,218.3L177.0,218.3L177.5,218.2L178.0,218.2L178.5,218.2L179.0,218.1L179.5,218.0L180.0,218.0L180.5,218.1L181.0,218.1L181.5,218.2L182.0,218.3L182.5,218.4L183.0,218.4L183.5,218.5L184.0,218.6L184.5,218.7L185.0,218.8L185.5,218.8L186.0,218.9L186.5,219.0L187.0,219.0L187.5,219.1L188.0,219.2L188.5,219.3L189.0,219.3L189.5,219.4L190.0,219.5L190.5,219.5L191.0,219.4L191.5,219.4L192.0,219.4L192.5,219.4L193.0,219.3L193.5,219.3L194.0,219.3L194.5,219.3L195.0,219.2L195.5,219.2L196.0,219.2L196.5,219.2L197.0,219.1L197.5,219.1L198.0,219.1L198.5,219.1L199.0,219.0L199.5,219.0L200.0,219.0L200.5,219.0L201.0,218.9L201.5,218.9L202.0,218.9L202.5,218.8L203.0,218.8L203.5,218.8L204.0,218.7L204.5,218.7L205.0,218.6L205.5,218.6L206.0,218.6L206.5,218.5L207.0,218.5L207.5,218.6L208.0,218.7L208.5,218.8L209.0,218.9L209.5,219.0L210.0,219.1L210.5,219.2L211.0,219.3L211.5,219.4L212.0,219.5L212.5,219.6L213.0,219.7L213.5,219.8L214.0,219.9L214.5,220.0L215.0,220.1L215.5,220.1L216.0,220.1L216.5,220.1L217.0,220.1L217.5,220.1L218.0,220.1L218.5,220.0L219.0,219.8L219.5,219.7L220.0,219.6L220.5,219.5L221.0,219.3L221.5,219.2L222.0,219.1L222.5,218.4L223.0,217.7L223.5,216.9L224.0,216.2L224.5,215.5L225.0,214.8L225.5,214.3L226.0,213.7L226.5,213.2L227.0,212.7L227.5,212.1L228.0,211.6L228.5,211.5L229.0,211.3L229.5,211.2L230.0,211.1L230.5,211.6L231.0,212.2L231.5,212.7L232.0,213.2L232.5,213.8L233.0,214.3L233.5,214.4L234.0,214.5L234.5,214.5L235.0,214.6L235.5,214.7L236.0,214.8L236.5,214.9L237.0,214.9L237.5,215.0L238.0,215.1L238.5,215.2L239.0,215.2L239.5,215.3L240.0,215.4L240.5,215.0L241.0,214.7L241.5,214.3L242.0,213.9L242.5,213.6L243.0,213.2L243.5,213.4L244.0,213.6L244.5,213.8L245.0,213.9L245.5,214.1L246.0,214.3L246.5,214.2L247.0,214.2L247.5,214.1L248.0,214.0L248.5,214.0L249.0,213.9L249.5,213.9L250.0,213.8L250.5,213.6L251.0,213.5L251.5,213.3L252.0,213.1L252.5,212.9L253.0,212.8L253.5,212.6L254.0,212.4L254.5,212.3L255.0,212.1L255.5,212.1L256.0,212.1L256.5,212.1L257.0,212.1L257.5,212.1L258.0,212.1L258.5,212.1L259.0,212.1L259.5,212.1L260.0,212.1L260.5,212.0L261.0,212.0L261.5,212.0L262.0,211.9L262.5,211.8L263.0,211.8L263.5,211.7L264.0,211.7L264.5,211.7L265.0,211.6L265.5,211.5L266.0,211.5L266.5,211.5L267.0,211.4L267.5,211.3L268.0,211.3L268.5,211.2L269.0,211.2L269.5,211.2L270.0,211.1L270.5,210.9L271.0,210.7L271.5,210.4L272.0,210.2L272.5,210.0L273.0,209.8L273.5,209.6L274.0,209.3L274.5,209.1L275.0,208.9L275.5,209.0L276.0,209.0L276.5,209.1L277.0,209.1L277.5,209.2L278.0,209.3L278.5,209.3L279.0,209.4L279.5,209.4L280.0,209.5L280.5,209.6L281.0,209.7L281.5,209.9L282.0,210.0L282.5,209.3L283.0,208.5L283.5,207.8L284.0,207.1L284.5,206.3L285.0,205.6L285.5,204.8L286.0,204.1L286.5,203.5L287.0,202.9L287.5,202.3L288.0,201.7L288.5,201.1L289.0,200.5L289.5,199.9L290.0,199.3L290.5,199.2L291.0,199.2L291.5,199.1L292.0,199.0L292.5,199.0L293.0,198.9L293.5,198.9L294.0,198.8L294.5,198.4L295.0,198.1L295.5,197.7L296.0,197.3L296.5,197.0L297.0,196.6L297.5,195.8L298.0,195.0L298.5,194.2L299.0,193.4L299.5,192.6L300.0,191.8L300.5,191.4L301.0,191.1L301.5,190.8L302.0,190.4L302.5,190.0L303.0,189.7L303.5,189.2L304.0,188.7L304.5,188.3L305.0,187.8L305.5,187.3L306.0,186.8L306.5,186.4L307.0,185.9L307.5,186.0L308.0,186.1L308.5,186.2L309.0,186.3L309.5,186.4L310.0,186.5L310.5,186.5L311.0,186.5L311.5,186.5L312.0,186.5L312.5,186.5L313.0,186.5L313.5,186.5L314.0,186.5L314.5,186.8L315.0,187.1L315.5,187.5L316.0,187.8L316.5,188.1L317.0,188.4L317.5,188.8L318.0,189.1L318.5,189.3L319.0,189.5L319.5,189.7L320.0,189.9L320.5,190.1L321.0,190.3L321.5,190.5L322.0,190.7L322.5,190.9L323.0,191.1L323.5,191.2L324.0,191.4L324.5,191.6L325.0,191.8L325.5,192.2L326.0,192.7L326.5,193.2L327.0,193.6L327.5,194.0L328.0,194.5L328.5,194.5L329.0,194.5L329.5,194.5L330.0,194.5L330.5,194.5L331.0,194.5L331.5,194.5L332.0,194.5L332.5,194.5L333.0,194.5L333.5,194.5L334.0,194.5L334.5,194.5L335.0,194.5L335.5,194.5L336.0,194.5L336.5,194.6L337.0,194.8L337.5,194.9L338.0,195.0L338.5,195.1L339.0,195.2L339.5,195.4L340.0,195.5L340.5,195.6L341.0,195.7L341.5,195.8L342.0,195.9L342.5,195.9L343.0,196.0L343.5,196.1L344.0,196.2L344.5,196.3L345.0,196.4L345.5,196.3L346.0,196.2L346.5,196.1L347.0,196.0L347.5,195.8L348.0,195.7L348.5,195.6L349.0,195.5L349.5,195.4L350.0,195.3L350.5,195.2L351.0,195.1L351.5,195.0L352.0,194.9L352.5,194.8L353.0,194.6L353.5,194.5L354.0,194.4L354.5,194.3L355.0,194.2L355.5,194.3L356.0,194.3L356.5,194.4L357.0,194.4L357.5,194.5L358.0,194.6L358.5,194.6L359.0,194.7L359.5,194.7L360.0,194.8L360.5,194.7L361.0,194.6L361.5,194.5L362.0,194.4L362.5,194.2L363.0,194.1L363.5,194.0L364.0,193.9L364.5,193.8L365.0,193.7L365.5,193.2L366.0,192.8L366.5,192.3L367.0,191.9L367.5,191.5L368.0,191.0L368.5,191.1L369.0,191.3L369.5,191.4L370.0,191.6L370.5,191.7L371.0,191.8L371.5,192.0L372.0,192.1L372.5,192.3L373.0,192.4L373.5,192.6L374.0,192.7L374.5,192.9L375.0,193.1L375.5,193.2L376.0,193.4L376.5,193.5L377.0,193.7L377.5,193.8L378.0,193.9L378.5,194.0L379.0,194.1L379.5,194.2L380.0,194.2L380.5,194.3L381.0,194.4L381.5,194.5L382.0,194.6L382.5,194.7L383.0,194.8L383.5,194.9L384.0,195.0L384.5,195.1L385.0,195.1L385.5,195.2L386.0,195.3L386.5,195.2L387.0,195.2L387.5,195.1L388.0,195.0L388.5,195.0L389.0,194.9L389.5,194.9L390.0,194.8L390.5,194.8L391.0,194.8L391.5,194.8L392.0,194.8L392.5,194.8L393.0,194.8L393.5,194.8L394.0,194.8L394.5,194.8L395.0,194.8L395.5,195.0L396.0,195.2L396.5,195.5L397.0,195.7L397.5,195.9L398.0,196.1L398.5,196.3L399.0,196.6L399.5,196.8L400.0,197.0L400.5,197.2L401.0,197.4L401.5,197.7L402.0,197.9L402.5,198.1L402.5,202.6L402.0,202.7L401.5,202.8L401.0,203.0L400.5,203.1L400.0,203.2L399.5,203.1L399.0,203.1L398.5,203.0L398.0,203.0L397.5,202.9L397.0,202.8L396.5,202.8L396.0,202.7L395.5,202.7L395.0,202.6L394.5,202.5L394.0,202.4L393.5,202.3L393.0,202.2L392.5,202.1L392.0,201.9L391.5,201.8L391.0,201.7L390.5,201.6L390.0,201.5L389.5,201.8L389.0,202.2L388.5,202.6L388.0,202.9L387.5,203.2L387.0,203.6L386.5,203.9L386.0,204.3L385.5,203.9L385.0,203.6L384.5,203.2L384.0,202.8L383.5,202.5L383.0,202.1L382.5,202.1L382.0,202.0L381.5,201.9L381.0,201.9L380.5,201.8L380.0,201.8L379.5,201.8L379.0,201.7L378.5,201.7L378.0,201.6L377.5,201.5L377.0,201.5L376.5,201.5L376.0,201.5L375.5,201.5L375.0,201.5L374.5,201.5L374.0,201.5L373.5,201.5L373.0,201.5L372.5,201.5L372.0,201.5L371.5,201.3L371.0,201.1L370.5,200.9L370.0,200.7L369.5,200.5L369.0,200.3L368.5,200.1L368.0,199.9L367.5,199.9L367.0,199.9L366.5,199.9L366.0,199.9L365.5,199.9L365.0,199.9L364.5,200.0L364.0,200.1L363.5,200.2L363.0,200.3L362.5,200.4L362.0,200.6L361.5,200.7L361.0,200.8L360.5,200.9L360.0,201.0L359.5,201.1L359.0,201.1L358.5,201.2L358.0,201.2L357.5,201.2L357.0,201.3L356.5,201.4L356.0,201.4L355.5,201.4L355.0,201.5L354.5,201.5L354.0,201.5L353.5,201.5L353.0,201.5L352.5,201.5L352.0,201.5L351.5,201.5L351.0,201.5L350.5,201.5L350.0,201.5L349.5,201.6L349.0,201.7L348.5,201.8L348.0,201.9L347.5,202.0L347.0,202.2L346.5,202.3L346.0,202.4L345.5,202.5L345.0,202.6L344.5,202.6L344.0,202.5L343.5,202.4L343.0,202.4L342.5,202.3L342.0,202.3L341.5,202.2L341.0,202.2L340.5,202.1L340.0,202.1L339.5,201.9L339.0,201.7L338.5,201.5L338.0,201.3L337.5,201.2L337.0,201.0L336.5,200.8L336.0,200.6L335.5,200.7L335.0,200.7L334.5,200.8L334.0,200.8L333.5,200.9L333.0,201.0L332.5,201.0L332.0,201.1L331.5,201.0L331.0,200.8L330.5,200.7L330.0,200.5L329.5,200.4L329.0,200.3L328.5,200.1L328.0,200.0L327.5,199.9L327.0,199.8L326.5,199.7L326.0,199.6L325.5,199.5L325.0,199.4L324.5,199.3L324.0,199.2L323.5,199.2L323.0,199.1L322.5,199.0L322.0,198.9L321.5,198.6L321.0,198.4L320.5,198.1L320.0,197.8L319.5,197.6L319.0,197.3L318.5,197.1L318.0,196.8L317.5,196.5L317.0,196.2L316.5,196.0L316.0,195.7L315.5,195.4L315.0,195.1L314.5,194.9L314.0,194.6L313.5,194.5L313.0,194.5L312.5,194.4L312.0,194.3L311.5,194.3L311.0,194.2L310.5,194.2L310.0,194.1L309.5,194.2L309.0,194.3L308.5,194.3L308.0,194.4L307.5,194.5L307.0,194.6L306.5,194.9L306.0,195.2L305.5,195.4L305.0,195.7L304.5,196.0L304.0,196.2L303.5,196.5L303.0,196.8L302.5,197.3L302.0,197.9L301.5,198.4L301.0,198.9L300.5,199.5L300.0,200.0L299.5,200.7L299.0,201.4L298.5,202.2L298.0,202.9L297.5,203.6L297.0,204.3L296.5,204.7L296.0,205.0L295.5,205.3L295.0,205.7L294.5,206.1L294.0,206.4L293.5,206.6L293.0,206.8L292.5,207.0L292.0,207.2L291.5,207.4L291.0,207.6L290.5,207.8L290.0,208.0L289.5,208.4L289.0,208.8L288.5,209.2L288.0,209.6L287.5,210.0L287.0,210.4L286.5,210.8L286.0,211.2L285.5,211.9L285.0,212.7L284.5,213.4L284.0,214.1L283.5,214.9L283.0,215.6L282.5,216.4L282.0,217.1L281.5,216.8L281.0,216.5L280.5,216.3L280.0,216.0L279.5,215.9L279.0,215.8L278.5,215.7L278.0,215.6L277.5,215.5L277.0,215.4L276.5,215.3L276.0,215.2L275.5,215.1L275.0,215.0L274.5,215.2L274.0,215.3L273.5,215.5L273.0,215.6L272.5,215.8L272.0,216.0L271.5,216.1L271.0,216.3L270.5,216.4L270.0,216.6L269.5,216.6L269.0,216.6L268.5,216.6L268.0,216.6L267.5,216.6L267.0,216.6L266.5,216.6L266.0,216.6L265.5,216.6L265.0,216.6L264.5,216.6L264.0,216.6L263.5,216.6L263.0,216.6L262.5,216.6L262.0,216.6L261.5,216.6L261.0,216.6L260.5,216.6L260.0,216.6L259.5,216.8L259.0,217.0L258.5,217.2L258.0,217.4L257.5,217.7L257.0,217.9L256.5,218.1L256.0,218.3L255.5,218.5L255.0,218.7L254.5,218.8L254.0,218.9L253.5,219.0L253.0,219.1L252.5,219.2L252.0,219.4L251.5,219.5L251.0,219.6L250.5,219.7L250.0,219.8L249.5,220.1L249.0,220.5L248.5,220.8L248.0,221.2L247.5,221.5L247.0,221.8L246.5,222.2L246.0,222.5L245.5,222.1L245.0,221.6L244.5,221.1L244.0,220.7L243.5,220.2L243.0,219.8L242.5,220.0L242.0,220.2L241.5,220.3L241.0,220.5L240.5,220.7L240.0,220.9L239.5,221.0L239.0,221.0L238.5,221.1L238.0,221.2L237.5,221.2L237.0,221.3L236.5,221.3L236.0,221.4L235.5,221.1L235.0,220.9L234.5,220.6L234.0,220.3L233.5,220.1L233.0,219.8L232.5,219.2L232.0,218.6L231.5,217.9L231.0,217.3L230.5,216.7L230.0,216.1L229.5,216.3L229.0,216.6L228.5,216.8L228.0,217.1L227.5,218.0L227.0,218.9L226.5,219.8L226.0,220.7L225.5,221.6L225.0,222.5L224.5,222.8L224.0,223.0L223.5,223.3L223.0,223.6L222.5,223.8L222.0,224.1L221.5,224.5L221.0,224.9L220.5,225.3L220.0,225.7L219.5,226.1L219.0,226.5L218.5,226.9L218.0,227.3L217.5,227.1L217.0,226.9L216.5,226.8L216.0,226.6L215.5,226.4L215.0,226.2L214.5,226.1L214.0,226.0L213.5,225.9L213.0,225.8L212.5,225.7L212.0,225.5L211.5,225.4L211.0,225.3L210.5,225.2L210.0,225.1L209.5,225.0L209.0,224.9L208.5,224.8L208.0,224.8L207.5,224.7L207.0,224.6L206.5,224.6L206.0,224.7L205.5,224.7L205.0,224.7L204.5,224.8L204.0,224.8L203.5,224.8L203.0,224.9L202.5,224.9L202.0,225.0L201.5,225.0L201.0,225.0L200.5,225.1L200.0,225.1L199.5,225.1L199.0,225.2L198.5,225.2L198.0,225.2L197.5,225.2L197.0,225.3L196.5,225.3L196.0,225.3L195.5,225.4L195.0,225.4L194.5,225.4L194.0,225.5L193.5,225.5L193.0,225.5L192.5,225.5L192.0,225.6L191.5,225.6L191.0,225.6L190.5,225.7L190.0,225.7L189.5,225.6L189.0,225.5L188.5,225.5L188.0,225.4L187.5,225.3L187.0,225.2L186.5,225.1L186.0,225.1L185.5,225.0L185.0,224.9L184.5,224.8L184.0,224.7L183.5,224.7L183.0,224.6L182.5,224.5L182.0,224.4L181.5,224.3L181.0,224.3L180.5,224.2L180.0,224.1L179.5,224.1L179.0,224.1L178.5,224.2L178.0,224.2L177.5,224.2L177.0,224.2L176.5,224.3L176.0,224.3L175.5,224.3L175.0,224.3L174.5,224.4L174.0,224.4L173.5,224.4L173.0,224.4L172.5,224.5L172.0,224.5L171.5,224.5L171.0,224.5L170.5,224.6L170.0,224.6L169.5,224.5L169.0,224.5L168.5,224.4L168.0,224.4L167.5,224.3L167.0,224.3L166.5,224.2L166.0,224.2L165.5,224.1L165.0,224.1L164.5,224.0L164.0,224.0L163.5,223.9L163.0,223.9L162.5,223.8L162.0,223.8L161.5,223.8L161.0,223.7L160.5,223.6L160.0,223.6L159.5,223.6L159.0,223.6L158.5,223.6L158.0,223.6L157.5,223.6L157.0,223.6L156.5,223.6L156.0,223.6L155.5,223.6L155.0,223.6L154.5,223.5L154.0,223.5L153.5,223.4L153.0,223.4L152.5,223.3L152.0,223.3L151.5,223.2L151.0,223.2L150.5,223.2L150.0,223.1L149.5,222.7L149.0,222.3L148.5,221.8L148.0,221.4L147.5,221.0L147.0,220.6L146.5,219.6L146.0,219.1ZM143.7,220.5a3.2,3.2 0 1,1 6.4,0a3.2,3.2 0 1,1 -6.4,0M147.5,219.0a3.2,3.2 0 1,1 6.4,0a3.2,3.2 0 1,1 -6.4,0M149.5,219.7a3.2,3.2 0 1,1 6.4,0a3.2,3.2 0 1,1 -6.4,0M152.2,220.9a3.2,3.2 0 1,1 6.4,0a3.2,3.2 0 1,1 -6.4,0M156.0,220.8a3.2,3.2 0 1,1 6.4,0a3.2,3.2 0 1,1 -6.4,0M159.5,221.2a3.2,3.2 0 1,1 6.4,0a3.2,3.2 0 1,1 -6.4,0M161.8,220.8a3.2,3.2 0 1,1 6.4,0a3.2,3.2 0 1,1 -6.4,0M164.3,221.9a3.2,3.2 0 1,1 6.4,0a3.2,3.2 0 1,1 -6.4,0M166.4,221.8a3.2,3.2 0 1,1 6.4,0a3.2,3.2 0 1,1 -6.4,0M168.6,221.4a3.2,3.2 0 1,1 6.4,0a3.2,3.2 0 1,1 -6.4,0M171.5,220.5a3.2,3.2 0 1,1 6.4,0a3.2,3.2 0 1,1 -6.4,0M175.7,219.3a3.2,3.2 0 1,1 6.4,0a3.2,3.2 0 1,1 -6.4,0M177.8,221.2a3.2,3.2 0 1,1 6.4,0a3.2,3.2 0 1,1 -6.4,0M181.2,220.0a3.2,3.2 0 1,1 6.4,0a3.2,3.2 0 1,1 -6.4,0M185.7,222.4a3.2,3.2 0 1,1 6.4,0a3.2,3.2 0 1,1 -6.4,0M188.0,221.5a3.2,3.2 0 1,1 6.4,0a3.2,3.2 0 1,1 -6.4,0M190.4,221.1a3.2,3.2 0 1,1 6.4,0a3.2,3.2 0 1,1 -6.4,0M194.0,220.7a3.2,3.2 0 1,1 6.4,0a3.2,3.2 0 1,1 -6.4,0M197.8,220.2a3.2,3.2 0 1,1 6.4,0a3.2,3.2 0 1,1 -6.4,0M200.2,221.6a3.2,3.2 0 1,1 6.4,0a3.2,3.2 0 1,1 -6.4,0M203.3,220.6a3.2,3.2 0 1,1 6.4,0a3.2,3.2 0 1,1 -6.4,0M206.8,221.3a3.2,3.2 0 1,1 6.4,0a3.2,3.2 0 1,1 -6.4,0M209.8,221.0a3.2,3.2 0 1,1 6.4,0a3.2,3.2 0 1,1 -6.4,0M213.7,223.2a3.2,3.2 0 1,1 6.4,0a3.2,3.2 0 1,1 -6.4,0M218.3,221.8a3.2,3.2 0 1,1 6.4,0a3.2,3.2 0 1,1 -6.4,0M221.2,217.6a3.2,3.2 0 1,1 6.4,0a3.2,3.2 0 1,1 -6.4,0M225.0,214.1a3.2,3.2 0 1,1 6.4,0a3.2,3.2 0 1,1 -6.4,0M227.3,213.3a3.2,3.2 0 1,1 6.4,0a3.2,3.2 0 1,1 -6.4,0M230.2,216.6a3.2,3.2 0 1,1 6.4,0a3.2,3.2 0 1,1 -6.4,0M234.3,217.2a3.2,3.2 0 1,1 6.4,0a3.2,3.2 0 1,1 -6.4,0M236.4,218.2a3.2,3.2 0 1,1 6.4,0a3.2,3.2 0 1,1 -6.4,0M239.5,215.6a3.2,3.2 0 1,1 6.4,0a3.2,3.2 0 1,1 -6.4,0M242.1,216.1a3.2,3.2 0 1,1 6.4,0a3.2,3.2 0 1,1 -6.4,0M245.1,216.8a3.2,3.2 0 1,1 6.4,0a3.2,3.2 0 1,1 -6.4,0M247.4,215.9a3.2,3.2 0 1,1 6.4,0a3.2,3.2 0 1,1 -6.4,0M249.8,215.4a3.2,3.2 0 1,1 6.4,0a3.2,3.2 0 1,1 -6.4,0M251.9,213.9a3.2,3.2 0 1,1 6.4,0a3.2,3.2 0 1,1 -6.4,0M254.8,214.6a3.2,3.2 0 1,1 6.4,0a3.2,3.2 0 1,1 -6.4,0M257.0,214.2a3.2,3.2 0 1,1 6.4,0a3.2,3.2 0 1,1 -6.4,0M259.5,213.6a3.2,3.2 0 1,1 6.4,0a3.2,3.2 0 1,1 -6.4,0M262.7,214.6a3.2,3.2 0 1,1 6.4,0a3.2,3.2 0 1,1 -6.4,0M266.0,214.3a3.2,3.2 0 1,1 6.4,0a3.2,3.2 0 1,1 -6.4,0M268.4,213.4a3.2,3.2 0 1,1 6.4,0a3.2,3.2 0 1,1 -6.4,0M271.4,210.7a3.2,3.2 0 1,1 6.4,0a3.2,3.2 0 1,1 -6.4,0M275.3,212.3a3.2,3.2 0 1,1 6.4,0a3.2,3.2 0 1,1 -6.4,0M277.3,211.4a3.2,3.2 0 1,1 6.4,0a3.2,3.2 0 1,1 -6.4,0M281.3,208.1a3.2,3.2 0 1,1 6.4,0a3.2,3.2 0 1,1 -6.4,0M284.0,203.9a3.2,3.2 0 1,1 6.4,0a3.2,3.2 0 1,1 -6.4,0M286.1,202.6a3.2,3.2 0 1,1 6.4,0a3.2,3.2 0 1,1 -6.4,0M290.6,202.0a3.2,3.2 0 1,1 6.4,0a3.2,3.2 0 1,1 -6.4,0M293.9,197.6a3.2,3.2 0 1,1 6.4,0a3.2,3.2 0 1,1 -6.4,0M296.8,194.6a3.2,3.2 0 1,1 6.4,0a3.2,3.2 0 1,1 -6.4,0M300.9,191.1a3.2,3.2 0 1,1 6.4,0a3.2,3.2 0 1,1 -6.4,0M303.5,188.4a3.2,3.2 0 1,1 6.4,0a3.2,3.2 0 1,1 -6.4,0M306.8,189.0a3.2,3.2 0 1,1 6.4,0a3.2,3.2 0 1,1 -6.4,0M309.5,189.6a3.2,3.2 0 1,1 6.4,0a3.2,3.2 0 1,1 -6.4,0M313.8,190.0a3.2,3.2 0 1,1 6.4,0a3.2,3.2 0 1,1 -6.4,0M316.6,192.7a3.2,3.2 0 1,1 6.4,0a3.2,3.2 0 1,1 -6.4,0M319.3,194.0a3.2,3.2 0 1,1 6.4,0a3.2,3.2 0 1,1 -6.4,0M322.6,195.1a3.2,3.2 0 1,1 6.4,0a3.2,3.2 0 1,1 -6.4,0M326.4,196.1a3.2,3.2 0 1,1 6.4,0a3.2,3.2 0 1,1 -6.4,0M329.2,196.2a3.2,3.2 0 1,1 6.4,0a3.2,3.2 0 1,1 -6.4,0M333.0,197.1a3.2,3.2 0 1,1 6.4,0a3.2,3.2 0 1,1 -6.4,0M335.3,198.1a3.2,3.2 0 1,1 6.4,0a3.2,3.2 0 1,1 -6.4,0M338.4,197.5a3.2,3.2 0 1,1 6.4,0a3.2,3.2 0 1,1 -6.4,0M341.5,199.5a3.2,3.2 0 1,1 6.4,0a3.2,3.2 0 1,1 -6.4,0M345.0,198.1a3.2,3.2 0 1,1 6.4,0a3.2,3.2 0 1,1 -6.4,0M349.4,197.9a3.2,3.2 0 1,1 6.4,0a3.2,3.2 0 1,1 -6.4,0M353.4,196.4a3.2,3.2 0 1,1 6.4,0a3.2,3.2 0 1,1 -6.4,0M356.9,197.8a3.2,3.2 0 1,1 6.4,0a3.2,3.2 0 1,1 -6.4,0M360.9,196.2a3.2,3.2 0 1,1 6.4,0a3.2,3.2 0 1,1 -6.4,0M363.8,193.8a3.2,3.2 0 1,1 6.4,0a3.2,3.2 0 1,1 -6.4,0M367.8,194.1a3.2,3.2 0 1,1 6.4,0a3.2,3.2 0 1,1 -6.4,0M369.8,195.0a3.2,3.2 0 1,1 6.4,0a3.2,3.2 0 1,1 -6.4,0M374.2,196.6a3.2,3.2 0 1,1 6.4,0a3.2,3.2 0 1,1 -6.4,0M378.5,197.6a3.2,3.2 0 1,1 6.4,0a3.2,3.2 0 1,1 -6.4,0M381.9,197.9a3.2,3.2 0 1,1 6.4,0a3.2,3.2 0 1,1 -6.4,0M384.9,196.4a3.2,3.2 0 1,1 6.4,0a3.2,3.2 0 1,1 -6.4,0M387.8,196.6a3.2,3.2 0 1,1 6.4,0a3.2,3.2 0 1,1 -6.4,0M392.2,197.6a3.2,3.2 0 1,1 6.4,0a3.2,3.2 0 1,1 -6.4,0M395.6,198.9a3.2,3.2 0 1,1 6.4,0a3.2,3.2 0 1,1 -6.4,0M397.9,199.8a3.2,3.2 0 1,1 6.4,0a3.2,3.2 0 1,1 -6.4,0M143.8,218.7a3.0,3.0 0 1,1 6.0,0a3.0,3.0 0 1,1 -6.0,0M146.6,221.1a3.2,3.2 0 1,1 6.4,0a3.2,3.2 0 1,1 -6.4,0M150.4,222.0a3.2,3.2 0 1,1 6.4,0a3.2,3.2 0 1,1 -6.4,0M152.7,221.8a3.2,3.2 0 1,1 6.4,0a3.2,3.2 0 1,1 -6.4,0M156.5,220.9a3.2,3.2 0 1,1 6.4,0a3.2,3.2 0 1,1 -6.4,0M160.2,220.9a3.2,3.2 0 1,1 6.4,0a3.2,3.2 0 1,1 -6.4,0M163.1,223.0a3.2,3.2 0 1,1 6.4,0a3.2,3.2 0 1,1 -6.4,0M166.4,222.5a3.2,3.2 0 1,1 6.4,0a3.2,3.2 0 1,1 -6.4,0M168.9,222.0a3.2,3.2 0 1,1 6.4,0a3.2,3.2 0 1,1 -6.4,0M171.8,222.7a3.2,3.2 0 1,1 6.4,0a3.2,3.2 0 1,1 -6.4,0M174.6,221.1a3.2,3.2 0 1,1 6.4,0a3.2,3.2 0 1,1 -6.4,0M176.6,222.2a3.2,3.2 0 1,1 6.4,0a3.2,3.2 0 1,1 -6.4,0M179.4,222.9a3.2,3.2 0 1,1 6.4,0a3.2,3.2 0 1,1 -6.4,0M182.5,223.4a3.2,3.2 0 1,1 6.4,0a3.2,3.2 0 1,1 -6.4,0M186.9,223.5a3.2,3.2 0 1,1 6.4,0a3.2,3.2 0 1,1 -6.4,0M190.7,223.9a3.2,3.2 0 1,1 6.4,0a3.2,3.2 0 1,1 -6.4,0M193.9,222.9a3.2,3.2 0 1,1 6.4,0a3.2,3.2 0 1,1 -6.4,0M198.1,223.3a3.2,3.2 0 1,1 6.4,0a3.2,3.2 0 1,1 -6.4,0M201.3,221.9a3.2,3.2 0 1,1 6.4,0a3.2,3.2 0 1,1 -6.4,0M205.4,223.2a3.2,3.2 0 1,1 6.4,0a3.2,3.2 0 1,1 -6.4,0M208.8,222.8a3.2,3.2 0 1,1 6.4,0a3.2,3.2 0 1,1 -6.4,0M211.9,223.7a3.2,3.2 0 1,1 6.4,0a3.2,3.2 0 1,1 -6.4,0M215.6,223.5a3.2,3.2 0 1,1 6.4,0a3.2,3.2 0 1,1 -6.4,0M219.0,221.4a3.2,3.2 0 1,1 6.4,0a3.2,3.2 0 1,1 -6.4,0M221.9,219.6a3.2,3.2 0 1,1 6.4,0a3.2,3.2 0 1,1 -6.4,0M224.8,214.9a3.2,3.2 0 1,1 6.4,0a3.2,3.2 0 1,1 -6.4,0M227.7,215.4a3.2,3.2 0 1,1 6.4,0a3.2,3.2 0 1,1 -6.4,0M230.1,218.3a3.2,3.2 0 1,1 6.4,0a3.2,3.2 0 1,1 -6.4,0M233.5,219.6a3.2,3.2 0 1,1 6.4,0a3.2,3.2 0 1,1 -6.4,0M235.6,218.2a3.2,3.2 0 1,1 6.4,0a3.2,3.2 0 1,1 -6.4,0M238.4,217.3a3.2,3.2 0 1,1 6.4,0a3.2,3.2 0 1,1 -6.4,0M241.9,219.7a3.2,3.2 0 1,1 6.4,0a3.2,3.2 0 1,1 -6.4,0M246.2,217.2a3.2,3.2 0 1,1 6.4,0a3.2,3.2 0 1,1 -6.4,0M249.0,217.9a3.2,3.2 0 1,1 6.4,0a3.2,3.2 0 1,1 -6.4,0M252.7,215.4a3.2,3.2 0 1,1 6.4,0a3.2,3.2 0 1,1 -6.4,0M256.3,214.1a3.2,3.2 0 1,1 6.4,0a3.2,3.2 0 1,1 -6.4,0M259.3,214.2a3.2,3.2 0 1,1 6.4,0a3.2,3.2 0 1,1 -6.4,0M262.0,214.6a3.2,3.2 0 1,1 6.4,0a3.2,3.2 0 1,1 -6.4,0M265.0,214.6a3.2,3.2 0 1,1 6.4,0a3.2,3.2 0 1,1 -6.4,0M268.0,213.4a3.2,3.2 0 1,1 6.4,0a3.2,3.2 0 1,1 -6.4,0M270.5,213.8a3.2,3.2 0 1,1 6.4,0a3.2,3.2 0 1,1 -6.4,0M273.1,212.1a3.2,3.2 0 1,1 6.4,0a3.2,3.2 0 1,1 -6.4,0M276.5,214.6a3.2,3.2 0 1,1 6.4,0a3.2,3.2 0 1,1 -6.4,0M280.7,211.4a3.2,3.2 0 1,1 6.4,0a3.2,3.2 0 1,1 -6.4,0M284.8,207.7a3.2,3.2 0 1,1 6.4,0a3.2,3.2 0 1,1 -6.4,0M288.7,205.4a3.2,3.2 0 1,1 6.4,0a3.2,3.2 0 1,1 -6.4,0M291.1,203.3a3.2,3.2 0 1,1 6.4,0a3.2,3.2 0 1,1 -6.4,0M295.2,200.6a3.2,3.2 0 1,1 6.4,0a3.2,3.2 0 1,1 -6.4,0M299.5,195.8a3.2,3.2 0 1,1 6.4,0a3.2,3.2 0 1,1 -6.4,0M302.3,194.2a3.2,3.2 0 1,1 6.4,0a3.2,3.2 0 1,1 -6.4,0M304.8,192.9a3.2,3.2 0 1,1 6.4,0a3.2,3.2 0 1,1 -6.4,0M308.6,192.5a3.2,3.2 0 1,1 6.4,0a3.2,3.2 0 1,1 -6.4,0M311.1,193.2a3.2,3.2 0 1,1 6.4,0a3.2,3.2 0 1,1 -6.4,0M313.9,193.4a3.2,3.2 0 1,1 6.4,0a3.2,3.2 0 1,1 -6.4,0M317.5,196.8a3.2,3.2 0 1,1 6.4,0a3.2,3.2 0 1,1 -6.4,0M321.3,197.0a3.2,3.2 0 1,1 6.4,0a3.2,3.2 0 1,1 -6.4,0M324.5,197.7a3.2,3.2 0 1,1 6.4,0a3.2,3.2 0 1,1 -6.4,0M328.2,198.1a3.2,3.2 0 1,1 6.4,0a3.2,3.2 0 1,1 -6.4,0M331.5,198.3a3.2,3.2 0 1,1 6.4,0a3.2,3.2 0 1,1 -6.4,0M334.7,198.8a3.2,3.2 0 1,1 6.4,0a3.2,3.2 0 1,1 -6.4,0M337.7,200.2a3.2,3.2 0 1,1 6.4,0a3.2,3.2 0 1,1 -6.4,0M341.0,199.9a3.2,3.2 0 1,1 6.4,0a3.2,3.2 0 1,1 -6.4,0M343.8,199.1a3.2,3.2 0 1,1 6.4,0a3.2,3.2 0 1,1 -6.4,0M347.1,198.6a3.2,3.2 0 1,1 6.4,0a3.2,3.2 0 1,1 -6.4,0M350.8,198.4a3.2,3.2 0 1,1 6.4,0a3.2,3.2 0 1,1 -6.4,0M354.6,199.2a3.2,3.2 0 1,1 6.4,0a3.2,3.2 0 1,1 -6.4,0M357.7,198.4a3.2,3.2 0 1,1 6.4,0a3.2,3.2 0 1,1 -6.4,0M361.6,197.1a3.2,3.2 0 1,1 6.4,0a3.2,3.2 0 1,1 -6.4,0M364.0,198.6a3.2,3.2 0 1,1 6.4,0a3.2,3.2 0 1,1 -6.4,0M366.3,199.1a3.2,3.2 0 1,1 6.4,0a3.2,3.2 0 1,1 -6.4,0M368.4,200.1a3.2,3.2 0 1,1 6.4,0a3.2,3.2 0 1,1 -6.4,0M371.0,200.1a3.2,3.2 0 1,1 6.4,0a3.2,3.2 0 1,1 -6.4,0M374.8,199.2a3.2,3.2 0 1,1 6.4,0a3.2,3.2 0 1,1 -6.4,0M379.3,198.9a3.2,3.2 0 1,1 6.4,0a3.2,3.2 0 1,1 -6.4,0M383.3,200.9a3.2,3.2 0 1,1 6.4,0a3.2,3.2 0 1,1 -6.4,0M385.4,200.9a3.2,3.2 0 1,1 6.4,0a3.2,3.2 0 1,1 -6.4,0M389.8,200.0a3.2,3.2 0 1,1 6.4,0a3.2,3.2 0 1,1 -6.4,0M392.3,199.9a3.2,3.2 0 1,1 6.4,0a3.2,3.2 0 1,1 -6.4,0M395.4,200.7a3.2,3.2 0 1,1 6.4,0a3.2,3.2 0 1,1 -6.4,0M398.2,201.2a3.2,3.2 0 1,1 6.4,0a3.2,3.2 0 1,1 -6.4,0" fill="#0a5eab"/><path d="M143.4,92.8V306.8M403.4,92.8V306.8" stroke="#262626" stroke-width="1.5" fill="none"/><path d="M150,117.8H398" stroke="#1e1e1e" stroke-width="1.7" fill="none"/><path d="M146,117.8L159.7,110.9L155.7,117.8L159.7,124.9Z" fill="#1e1e1e"/><path d="M402.8,117.8L389.2,110.8L393.1,117.8L389.2,125.1Z" fill="#1e1e1e"/><text x="273.9" y="113.5" font-size="25" text-anchor="middle" fill="#1a1a1a" stroke="#1a1a1a">LOL</text><rect x="258.8" y="257.6" width="255" height="39.7" fill="#fff" stroke="#111" stroke-width="1.6"/><g font-size="19.5" fill="#1a1a1a" stroke="#1a1a1a"><text x="265" y="281.7">LS7; v</text><text x="319.4" y="291.1" font-size="15.5">t</text><text x="328.8" y="281.7">= 40</text><text x="370.2" y="281.7" textLength="33" lengthAdjust="spacingAndGlyphs">m/s;</text></g><path d="M410.1,276.9C410.6,274.6 412.3,273.1 413.5,273.5C414.7,274.2 412.6,278.6 412.5,280.6C412.5,283.1 415.3,283 417.2,280.4C419.3,277.5 420.7,272.3 419.7,269.6C418.8,267.5 416.2,267.9 415.7,270.4C415.2,273 416.6,275.2 420.9,275.4" fill="none" stroke="#1a1a1a" stroke-width="1.5" stroke-linecap="round"/><g font-size="19.5" fill="#1a1a1a" stroke="#1a1a1a"><text x="422.2" y="291.1" font-size="15.5">Oil</text><text x="446.5" y="281.7">= 90 °C</text></g><text x="57" y="315.5" font-size="24" text-anchor="end" fill="#1a1a1a" stroke="#1a1a1a">0</text><text x="57" y="262.1" font-size="24" text-anchor="end" fill="#1a1a1a" stroke="#1a1a1a">5</text><text x="57" y="208.6" font-size="24" text-anchor="end" fill="#1a1a1a" stroke="#1a1a1a">10</text><text x="57" y="155.2" font-size="24" text-anchor="end" fill="#1a1a1a" stroke="#1a1a1a">15</text><text x="57" y="101.7" font-size="24" text-anchor="end" fill="#1a1a1a" stroke="#1a1a1a">20</text><text x="67.0" y="340.5" font-size="24" text-anchor="middle" fill="#454545" stroke="#454545">350</text><text x="143.1" y="340.5" font-size="24" text-anchor="middle" fill="#454545" stroke="#454545">400</text><text x="219.2" y="340.5" font-size="24" text-anchor="middle" fill="#454545" stroke="#454545">450</text><text x="295.3" y="340.5" font-size="24" text-anchor="middle" fill="#454545" stroke="#454545">500</text><text x="371.4" y="340.5" font-size="24" text-anchor="middle" fill="#454545" stroke="#454545">550</text><text x="447.5" y="340.5" font-size="24" text-anchor="middle" fill="#454545" stroke="#454545">600</text><text x="523.6" y="340.5" font-size="24" text-anchor="middle" fill="#454545" stroke="#454545">650</text><text x="294" y="374.2" font-size="26.8" text-anchor="middle" fill="#4a4a4a" stroke="#4a4a4a">Time t in s</text><text transform="translate(18.5,200.5) rotate(-90)" font-size="27" text-anchor="middle" fill="#1a1a1a" stroke="#1a1a1a">Torque loss in Nm</text><rect x="23.2" y="0.5" width="500.5" height="76.7" fill="#fff" stroke="#505050" stroke-width="1.4"/><path d="M30,21.2H103.8" stroke="#0a5eab" stroke-width="5"/><path d="M30,56.6H103.8" stroke="#702e7e" stroke-width="5"/><text x="110" y="23.8" font-size="22" fill="#1a1a1a" stroke="#1a1a1a">Torque loss of the engine torque signal T<tspan font-size="17.6" dx="1.6" dy="10.7">L,Eng</tspan></text><text x="110" y="59.8" font-size="22" fill="#1a1a1a" stroke="#1a1a1a">Torque loss of the torque loss meter T<tspan font-size="17.6" dx="1.3" dy="11">L2</tspan></text></svg></body></html>
